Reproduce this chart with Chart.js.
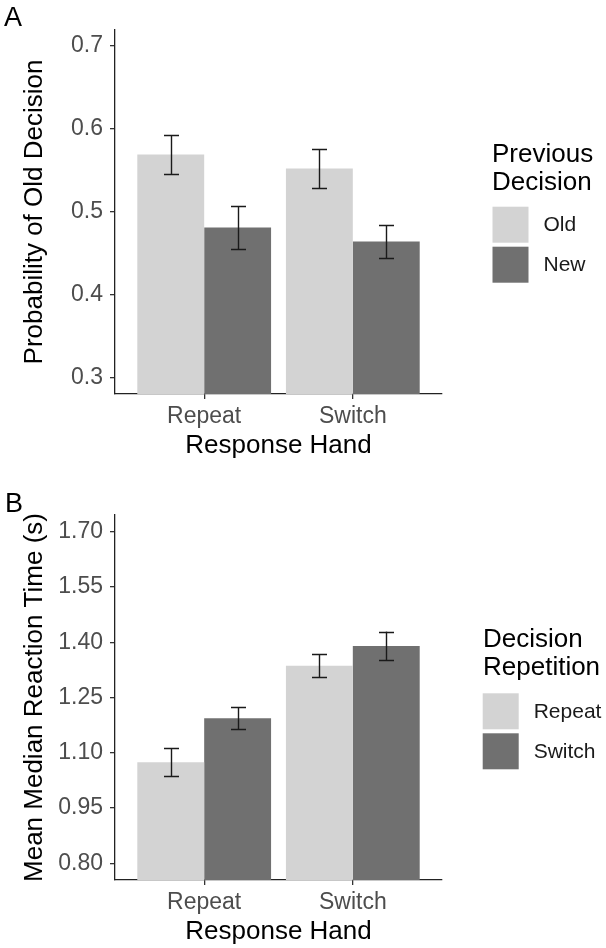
<!DOCTYPE html>
<html>
<head>
<meta charset="utf-8">
<script src="https://cdn.jsdelivr.net/npm/chart.js@4"></script>
<style>
  body { margin: 0; background: #fff; }
  #wrap { position: relative; width: 606px; height: 948px; }
  canvas { position: absolute; left: 0; }
</style>
</head>
<body>
<div id="wrap">
  <canvas id="chartA" width="606" height="474" style="top:0"></canvas>
  <canvas id="chartB" width="606" height="474" style="top:474px"></canvas>
</div>
<script>
// data
const handCategories = ["Repeat", "Switch"];

const oldDecisionProb = [0.569, 0.552];
const oldDecisionErr = [0.0235, 0.023];
const newDecisionProb = [0.481, 0.464];
const newDecisionErr = [0.026, 0.020];
const probTicks = [0.3, 0.4, 0.5, 0.6, 0.7];

const repeatRT = [1.074, 1.336];
const repeatRTErr = [0.038, 0.0315];
const switchRT = [1.194, 1.390];
const switchRTErr = [0.030, 0.039];
const rtTicks = [0.80, 0.95, 1.10, 1.25, 1.40, 1.55, 1.70];

const FONT = "'Liberation Sans', Arial, sans-serif";
const LIGHT = "#d3d3d3";
const DARK = "#707070";

// error bars drawn from the y scale
const errorBars = {
  id: "errorBars",
  afterDatasetsDraw(chart) {
    const ctx = chart.ctx;
    const y = chart.scales.y;
    ctx.save();
    ctx.strokeStyle = "#1a1a1a";
    ctx.lineWidth = 1.4;
    chart.data.datasets.forEach((ds, i) => {
      const meta = chart.getDatasetMeta(i);
      meta.data.forEach((bar, j) => {
        const v = ds.data[j].y, e = ds.errors[j];
        const top = y.getPixelForValue(v + e);
        const bot = y.getPixelForValue(v - e);
        const x = Math.round(bar.x) + 0.5;
        ctx.beginPath();
        ctx.moveTo(x, top); ctx.lineTo(x, bot);
        ctx.moveTo(x - 7.5, Math.round(top) + 0.5); ctx.lineTo(x + 7.5, Math.round(top) + 0.5);
        ctx.moveTo(x - 7.5, Math.round(bot) + 0.5); ctx.lineTo(x + 7.5, Math.round(bot) + 0.5);
        ctx.stroke();
      });
    });
    ctx.restore();
  }
};

// ggplot-like legend on the right plus panel letter
const sideLegend = {
  id: "sideLegend",
  afterDraw(chart, args, o) {
    const ctx = chart.ctx;
    ctx.save();
    ctx.fillStyle = "#000";
    ctx.textBaseline = "alphabetic";
    ctx.textAlign = "left";
    ctx.font = "27px " + FONT;
    ctx.fillText(o.letter, o.letterX, o.letterY);
    ctx.font = "26px " + FONT;
    o.title.forEach((t, i) => ctx.fillText(t, o.x, o.titleY + i * 28.5));
    ctx.font = "21px " + FONT;
    ctx.textBaseline = "middle";
    chart.data.datasets.forEach((ds, i) => {
      const ky = o.keyY + i * 40;
      ctx.fillStyle = ds.backgroundColor;
      ctx.fillRect(o.keyX, ky, 36, 36);
      ctx.fillStyle = "#1a1a1a";
      ctx.fillText(ds.label, o.keyX + 51, ky + 18.5);
    });
    ctx.restore();
  }
};

function points(vals) {
  return vals.map((v, i) => ({ x: i, y: v }));
}

function makeChart(id, cfg) {
  return new Chart(document.getElementById(id), {
    type: "bar",
    data: {
      datasets: cfg.series.map(s => ({
        label: s.label,
        data: points(s.values),
        errors: s.errors,
        backgroundColor: s.color,
        borderWidth: 0,
        categoryPercentage: 0.9,
        barPercentage: 1.0
      }))
    },
    options: {
      responsive: false,
      animation: false,
      devicePixelRatio: 1,
      layout: { padding: { left: 0, right: 164, top: cfg.top, bottom: 0 } },
      plugins: {
        legend: { display: false },
        tooltip: { enabled: false },
        sideLegend: cfg.legend
      },
      scales: {
        x: {
          type: "linear",
          offset: false,
          bounds: "data",
          min: -0.6,
          max: 1.6,
          afterBuildTicks: ax => { ax.ticks = handCategories.map((c, i) => ({ value: i })); },
          afterFit: ax => { ax.height = cfg.xHeight; },
          ticks: {
            autoSkip: false,
            maxRotation: 0,
            padding: 4,
            color: "#4d4d4d",
            font: { family: FONT, size: 23 },
            callback: v => handCategories[v]
          },
          grid: { offset: false, drawOnChartArea: false, drawTicks: true, tickLength: 5, lineWidth: 1.3, color: "#333", tickColor: "#333" },
          border: { display: true, color: "#222", width: 1.3 },
          title: {
            display: true,
            text: "Response Hand",
            color: "#000",
            font: { family: FONT, size: 26 },
            padding: { top: 0, bottom: cfg.xTitlePad }
          }
        },
        y: {
          min: cfg.yMin,
          max: cfg.yMax,
          afterBuildTicks: ax => { ax.ticks = cfg.ticks.map(v => ({ value: v })); },
          afterFit: ax => { ax.width = 115; },
          ticks: {
            padding: 7,
            color: "#4d4d4d",
            font: { family: FONT, size: 23 },
            callback: v => v.toFixed(cfg.decimals)
          },
          grid: { drawOnChartArea: false, drawTicks: true, tickLength: 5, lineWidth: 1.3, color: "#333", tickColor: "#333" },
          border: { display: true, color: "#222", width: 1.3 },
          title: {
            display: true,
            text: cfg.yTitle,
            color: "#000",
            font: { family: FONT, size: 26 },
            padding: { top: 19, bottom: 0 }
          }
        }
      }
    },
    plugins: [errorBars, sideLegend]
  });
}

makeChart("chartA", {
  series: [
    { label: "Old", values: oldDecisionProb, errors: oldDecisionErr, color: LIGHT },
    { label: "New", values: newDecisionProb, errors: newDecisionErr, color: DARK }
  ],
  top: 30, xHeight: 80, xTitlePad: 13,
  yMin: 0.2804, yMax: 0.7189, ticks: probTicks, decimals: 1,
  yTitle: "Probability of Old Decision",
  legend: { letter: "A", letterX: 4, letterY: 26, title: ["Previous", "Decision"], x: 492, titleY: 161.5, keyX: 492.5, keyY: 206.7 }
});

makeChart("chartB", {
  series: [
    { label: "Repeat", values: repeatRT, errors: repeatRTErr, color: LIGHT },
    { label: "Switch", values: switchRT, errors: switchRTErr, color: DARK }
  ],
  top: 41, xHeight: 68, xTitlePad: 1,
  yMin: 0.7547, yMax: 1.7453, ticks: rtTicks, decimals: 2,
  yTitle: "Mean Median Reaction Time (s)",
  legend: { letter: "B", letterX: 5, letterY: 37.5, title: ["Decision", "Repetition"], x: 483, titleY: 172.7, keyX: 482.7, keyY: 219.3 }
});
</script>
</body>
</html>
